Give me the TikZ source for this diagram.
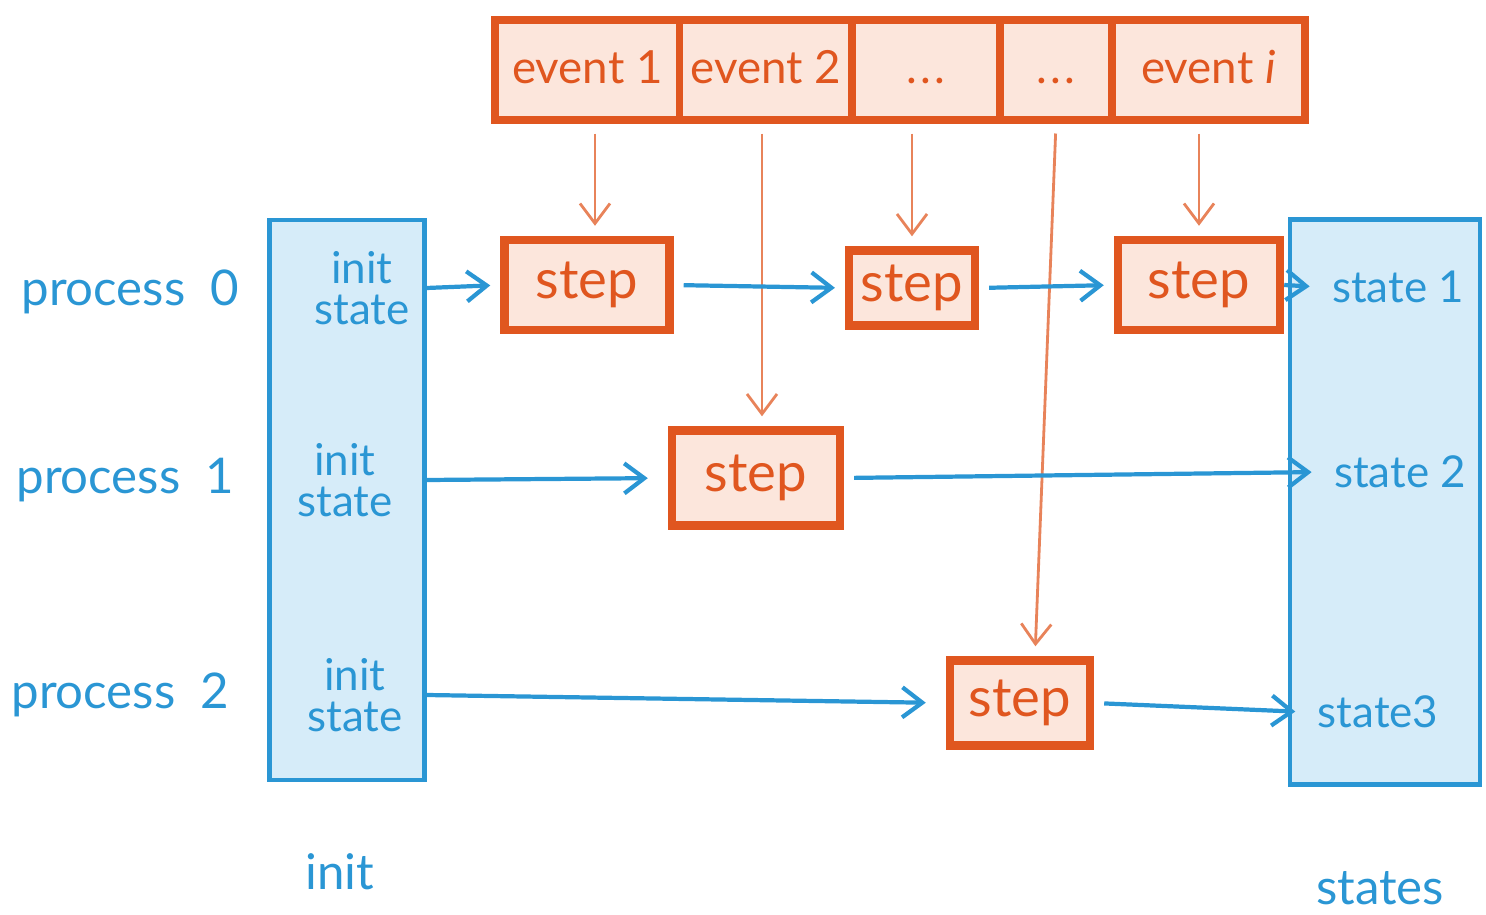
\documentclass[tikz,border=0pt]{standalone}
\usepackage{fontspec}
\setmainfont{Lato}
\usetikzlibrary{arrows.meta}
\definecolor{inkblue}{RGB}{42,150,212}
\definecolor{washblue}{RGB}{214,236,249}
\definecolor{inkorange}{RGB}{224,86,31}
\definecolor{washorange}{RGB}{252,230,220}
\definecolor{thinorange}{RGB}{232,131,90}
\tikzset{
  eventcell/.style={draw=inkorange, fill=washorange, line width=2pt, minimum height=1cm, text height=1.8ex, text depth=0.3ex, text=inkorange, font=\fontsize{13}{15}\selectfont},
  stepbox/.style={draw=inkorange, fill=washorange, line width=2.4pt, text=inkorange, font=\fontsize{15.5}{18}\selectfont},
  column/.style={draw=inkblue, fill=washblue, line width=1.2pt},
  bluetext/.style={text=inkblue, font=\fontsize{14}{16}\selectfont},
  smalltext/.style={text=inkblue, font=\fontsize{12.5}{11.5}\selectfont, align=center},
  flow/.style={draw=inkblue, line width=1.2pt, -{Straight Barb[length=2mm,width=3mm]}},
  feed/.style={draw=thinorange, line width=0.8pt, -{Straight Barb[length=2mm,width=3mm]}}
}
\begin{document}
\begin{tikzpicture}
  \useasboundingbox (0,0) rectangle (14.86,-9.15);
  % columns
  \node[column, minimum width=1.55cm, minimum height=5.6cm] (initcol) at (3.47,-5.0) {};
  \node[column, minimum width=1.9cm, minimum height=5.65cm] (statecol) at (13.85,-5.02) {};
  % events
  \node[eventcell, minimum width=1.85cm] (ev1) at (5.875,-0.70) {event 1};
  \node[eventcell, minimum width=1.72cm] (ev2) at (7.66,-0.70) {event 2};
  \node[eventcell, minimum width=1.48cm] (ev3) at (9.26,-0.70) {.\kern1pt.\kern1pt.};
  \node[eventcell, minimum width=1.12cm] (ev4) at (10.56,-0.70) {.\kern1pt.\kern1pt.};
  \node[eventcell, minimum width=1.93cm] (ev5) at (12.085,-0.70) {event \emph{i}};
  % steps
  \node[stepbox, minimum width=1.65cm, minimum height=0.9cm] (s00) at (5.87,-2.85) {step};
  \node[stepbox, minimum width=1.25cm, minimum height=0.75cm] (s01) at (9.12,-2.88) {step};
  \node[stepbox, minimum width=1.62cm, minimum height=0.9cm] (s02) at (11.99,-2.85) {step};
  \node[stepbox, minimum width=1.68cm, minimum height=0.95cm] (s1) at (7.56,-4.78) {step};
  \node[stepbox, minimum width=1.4cm, minimum height=0.85cm] (s2) at (10.20,-7.03) {step};
  % labels
  \node[bluetext] (p0) at (1.30,-2.92) {process\enspace 0};
  \node[bluetext] (p1) at (1.25,-4.80) {process\enspace 1};
  \node[bluetext] (p2) at (1.20,-6.95) {process\enspace 2};
  \node[smalltext] (i0) at (3.62,-2.88) {init\\state};
  \node[smalltext] (i1) at (3.45,-4.80) {init\\state};
  \node[smalltext] (i2) at (3.55,-6.95) {init\\state};
  \node[smalltext] (st1) at (13.98,-2.87) {state 1};
  \node[smalltext] (st2) at (14.00,-4.72) {state 2};
  \node[smalltext] (st3) at (13.78,-7.12) {state3};
  \node[bluetext] (initlbl) at (3.40,-8.72) {init};
  \node[bluetext] (statelbl) at (13.80,-8.88) {states};
  % event feeds
  \draw[feed, shorten <=1mm, shorten >=1mm] ([xshift=0.8mm]s00.north |- ev1.south) -- ([xshift=0.8mm]s00.north);
  \draw[feed, shorten <=1mm, shorten >=1mm] ([xshift=0.6mm]s1.north |- ev2.south) -- ([xshift=0.6mm]s1.north);
  \draw[feed, shorten <=1mm, shorten >=1mm] (s01.north |- ev3.south) -- (s01.north);
  \draw[feed, shorten <=1mm, shorten >=1mm] (ev4.south) -- ([xshift=1.5mm]s2.north);
  \draw[feed, shorten <=1mm, shorten >=1mm] (s02.north |- ev5.south) -- (s02.north);
  % state flow
  \draw[flow, shorten >=1mm] (i0 -| initcol.east) -- (s00.west);
  \draw[flow, shorten <=1mm, shorten >=1mm] (s00.east) -- (s01.west);
  \draw[flow, shorten <=1mm, shorten >=1mm] (s01.east) -- (s02.west);
  \draw[flow, shorten >=1mm] (s02.east) -- (st1.west);
  \draw[flow, shorten >=2mm] (i1 -| initcol.east) -- (s1.west);
  \draw[flow, shorten <=1mm, shorten >=1mm] (s1.east) -- (st2.west);
  \draw[flow, shorten >=2mm] (i2 -| initcol.east) -- (s2.west);
  \draw[flow, shorten <=1mm, shorten >=1mm] (s2.east) -- (st3.west);
\end{tikzpicture}
\end{document}
